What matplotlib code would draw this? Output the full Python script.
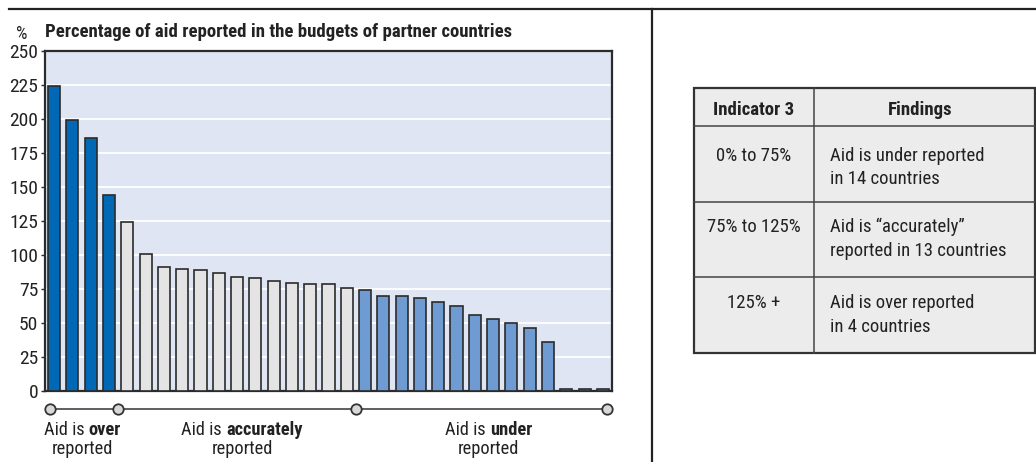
import matplotlib
matplotlib.use("Agg")
import matplotlib.pyplot as plt
import matplotlib.transforms as mtrans
from matplotlib.patches import Rectangle
from matplotlib.lines import Line2D
from matplotlib import font_manager

_avail = set(f.name for f in font_manager.fontManager.ttflist)
_pref = ['Roboto Condensed', 'Liberation Sans Narrow', 'Archivo Narrow', 'PT Sans Narrow',
         'Liberation Sans']
_fam = [f for f in _pref if f in _avail][:1] + ['DejaVu Sans']
plt.rcParams['font.family'] = _fam

# ---------------- data ----------------
over_values = [224, 199.5, 186, 144]
accurate_values = [124, 101, 91, 90, 88.7, 87, 83.5, 82.8, 81, 79.2, 78.6, 78.6, 76]
under_values = [74, 70, 70, 68.4, 65.8, 62.3, 55.6, 52.7, 50.2, 46, 36.3, 1.2, 1.2, 1.2]
yticks = [0, 25, 50, 75, 100, 125, 150, 175, 200, 225, 250]
title = "Percentage of aid reported in the budgets of partner countries"
group_labels = [("Aid is ", "over"), ("Aid is ", "accurately"), ("Aid is ", "under")]
table_header = ["Indicator 3", "Findings"]
table_col1 = ["0% to 75%", "75% to 125%", "125% +"]
table_col2 = [["Aid is under reported", "in 14 countries"],
              ["Aid is \u201caccurately\u201d", "reported in 13 countries"],
              ["Aid is over reported", "in 4 countries"]]

C_OVER = "#0068B4"
C_ACC = "#E4E4E4"
C_UNDER = "#6F9BD3"
C_BG = "#DFE5F3"
C_EDGE = "#2B2B2B"
C_TEXT = "#222222"

W, H = 1036, 462
fig = plt.figure(figsize=(W / 100, H / 100), dpi=100)
fig.patch.set_facecolor("white")


def fx(x):
    return x / W


def fy(y):
    return 1 - y / H


ax = fig.add_axes([fx(45), fy(391), 567 / W, 340 / H])
ax.set_facecolor(C_BG)

values = over_values + accurate_values + under_values
colors = [C_OVER] * len(over_values) + [C_ACC] * len(accurate_values) + [C_UNDER] * len(under_values)
xs = list(range(len(values)))
ax.bar(xs, values, width=0.66, color=colors, edgecolor=C_EDGE, linewidth=1.2, zorder=3)

ax.set_xlim(-0.5, len(values) - 0.5)
ax.set_ylim(0, 250)
ax.set_yticks(yticks)
ax.set_yticklabels([str(t) for t in yticks], fontsize=14, color=C_TEXT)
ax.set_xticks([])
ax.yaxis.grid(True, color="white", linewidth=1.3, zorder=1)
ax.set_axisbelow(True)
ax.tick_params(axis="y", length=3, width=1, color=C_EDGE, pad=2)
for s in ax.spines.values():
    s.set_color(C_EDGE)
    s.set_linewidth(1.6)

# group bracket under axis
n_over = len(over_values)
n_acc = len(accurate_values)
n_all = len(values)
bounds = [-0.25, n_over - 0.5, n_over + n_acc - 0.5, n_all - 0.75]
trans = mtrans.blended_transform_factory(ax.transData, ax.transAxes)
yb = (391 - 409) / 340
ax.plot(bounds, [yb] * len(bounds), color="#444444", linewidth=1.2, marker="o",
        markersize=7.5, markerfacecolor="#D8D8D8", markeredgecolor="#333333",
        markeredgewidth=1.3, transform=trans, clip_on=False, zorder=5)

fig.canvas.draw()
renderer = fig.canvas.get_renderer()
label_shift = [-0.08, 0.27, 0.38]
centers = [(bounds[i] + bounds[i + 1]) / 2 + label_shift[i] for i in range(3)]
for (plain, bold), cx in zip(group_labels, centers):
    xpix = ax.transData.transform((cx, 0))[0]
    t1 = fig.text(0, 0, plain, fontsize=13.2, color=C_TEXT)
    t2 = fig.text(0, 0, bold, fontsize=13.2, fontweight="bold", color=C_TEXT)
    w1 = t1.get_window_extent(renderer).width
    w2 = t2.get_window_extent(renderer).width
    left = xpix - (w1 + w2) / 2
    t1.set_position((left / W, fy(430)))
    t1.set_va("center")
    t2.set_position(((left + w1) / W, fy(430)))
    t2.set_va("center")
    fig.text(xpix / W, fy(449), "reported", fontsize=13.2, color=C_TEXT,
             ha="center", va="center")

# titles
fig.text(fx(22), fy(34), "%", fontsize=13, color=C_TEXT, ha="center", va="center")
fig.text(fx(45), fy(32), title, fontsize=13.5, fontweight="bold", color=C_TEXT,
         ha="left", va="center")

# frame lines
fig.add_artist(Line2D([fx(9), fx(1036)], [fy(9), fy(9)], color="#222222", linewidth=1.6))
fig.add_artist(Line2D([fx(652), fx(652)], [fy(9), fy(462)], color="#222222", linewidth=1.6))

# table
tx0, tx1, tx2 = 694, 814, 1035
ty = [88, 126, 202, 277, 353]
fig.add_artist(Rectangle((fx(tx0), fy(ty[-1])), (tx2 - tx0) / W, (ty[-1] - ty[0]) / H,
                         facecolor="#ECECEC", edgecolor="#333333", linewidth=1.6,
                         transform=fig.transFigure))
fig.add_artist(Line2D([fx(tx1), fx(tx1)], [fy(ty[0]), fy(ty[-1])], color="#444444", linewidth=1.1))
for yy in ty[1:-1]:
    fig.add_artist(Line2D([fx(tx0), fx(tx2)], [fy(yy), fy(yy)], color="#444444", linewidth=1.1))

fig.text(fx(754), fy(110), table_header[0], fontsize=13.5, fontweight="bold", color=C_TEXT,
         ha="center", va="center")
fig.text(fx(920), fy(110), table_header[1], fontsize=13.5, fontweight="bold", color=C_TEXT,
         ha="center", va="center")
row_tops = [156, 227, 303]
for r, (c1, c2) in enumerate(zip(table_col1, table_col2)):
    fig.text(fx(754), fy(row_tops[r]), c1, fontsize=13.5, color=C_TEXT, ha="center", va="center")
    for k, line in enumerate(c2):
        fig.text(fx(830), fy(row_tops[r] + 23.5 * k), line, fontsize=13.5, color=C_TEXT,
                 ha="left", va="center")

fig.savefig("out.png", dpi=100)
